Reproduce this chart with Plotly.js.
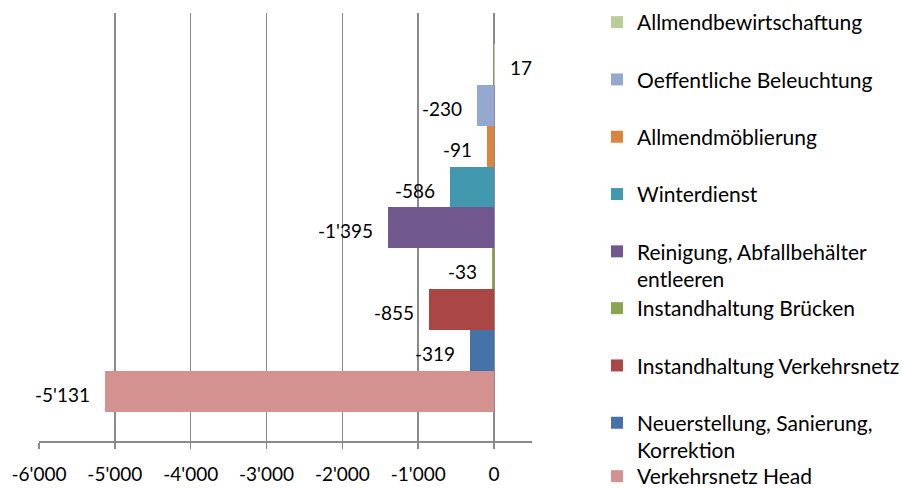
<!DOCTYPE html>
<html>
<head>
<meta charset="utf-8">
<script src="https://cdn.plot.ly/plotly-3.0.1.min.js"></script>
<style>html,body{margin:0;padding:0;background:#fff;}#chart{width:902px;height:488px;}</style>
</head>
<body>
<div id="chart"></div>
<script>
// Data (legend order, top to bottom)
const categories = [
  "Allmendbewirtschaftung",
  "Oeffentliche Beleuchtung",
  "Allmendmöblierung",
  "Winterdienst",
  "Reinigung, Abfallbehälter entleeren",
  "Instandhaltung Brücken",
  "Instandhaltung Verkehrsnetz",
  "Neuerstellung, Sanierung, Korrektion",
  "Verkehrsnetz Head"
];
const legendLabels = [
  "Allmendbewirtschaftung",
  "Oeffentliche Beleuchtung",
  "Allmendmöblierung",
  "Winterdienst",
  "Reinigung, Abfallbehälter<br>entleeren",
  "Instandhaltung Brücken",
  "Instandhaltung Verkehrsnetz",
  "Neuerstellung, Sanierung,<br>Korrektion",
  "Verkehrsnetz Head"
];
const values = [17, -230, -91, -586, -1395, -33, -855, -319, -5131];
const colors = ["#B9CD96", "#93A9CF", "#DB843D", "#4198AF", "#71588F", "#89A54E", "#AA4643", "#4572A7", "#D39190"];
const tickVals = [-6000, -5000, -4000, -3000, -2000, -1000, 0];
const tickText = ["-6'000", "-5'000", "-4'000", "-3'000", "-2'000", "-1'000", "0"];
const legendOf = ["legend", "legend", "legend", "legend", "legend", "legend2", "legend2", "legend2", "legend3"];

function fmt(v) {
  const s = String(Math.abs(v)).replace(/\B(?=(\d{3})+(?!\d))/g, "'");
  return (v < 0 ? "-" : "") + s;
}

const FONT = "Lato, 'Open Sans', sans-serif";
const fontSize = 19;
const legendFontSize = 21;
const textColor = "#000000";
const gridColor = "#8A8A8A";

const traces = categories.map((c, i) => ({
  type: "bar",
  orientation: "h",
  name: legendLabels[i],
  x: [values[i]],
  y: [c],
  marker: { color: colors[i], line: { width: 0 } },
  legend: legendOf[i],
  legendgroup: "g" + i,
  hoverinfo: "x+name"
}));

const annotations = categories.map((c, i) => ({
  x: values[i],
  y: c,
  xref: "x",
  yref: "y",
  text: fmt(values[i]),
  showarrow: false,
  xanchor: values[i] < 0 ? "right" : "left",
  yanchor: "middle",
  xshift: values[i] < 0 ? -13 : 13,
  yshift: -3,
  font: { family: FONT, size: fontSize, color: textColor }
}));

const legendBase = {
  xref: "container", yref: "container",
  xanchor: "left", yanchor: "top",
  bgcolor: "rgba(0,0,0,0)", borderwidth: 0,
  font: { family: FONT, size: legendFontSize, color: textColor },
  traceorder: "grouped", tracegroupgap: 27, valign: "top",
  maxheight: 480
};

const layout = {
  width: 902, height: 488,
  margin: { l: 39, r: 370, t: 13, b: 47 },
  paper_bgcolor: "#ffffff", plot_bgcolor: "#ffffff",
  font: { family: FONT, size: fontSize, color: textColor },
  barmode: "overlay", bargap: 0,
  showlegend: true,
  legend: Object.assign({}, legendBase, { x: 597 / 902, y: 1 - 2 / 488 }),
  legend2: Object.assign({}, legendBase, { x: 597 / 902, y: 1 - 288 / 488 }),
  legend3: Object.assign({}, legendBase, { x: 597 / 902, y: 1 - 456 / 488 }),
  xaxis: {
    range: [-6000, 500],
    tickvals: tickVals, ticktext: tickText,
    showgrid: true, gridcolor: gridColor, gridwidth: 1.5,
    zeroline: true, zerolinecolor: gridColor, zerolinewidth: 1.5,
    showline: true, linecolor: gridColor, linewidth: 1.5,
    ticks: "outside", ticklen: 6, tickcolor: gridColor, tickwidth: 1.5,
    ticklabelstandoff: 10,
    tickfont: { family: FONT, size: fontSize, color: textColor },
    fixedrange: true
  },
  yaxis: {
    type: "category",
    categoryorder: "array",
    categoryarray: categories.slice().reverse(),
    range: [-1.216, 9.258],
    showticklabels: false, showgrid: false, zeroline: false, showline: false, ticks: "",
    fixedrange: true
  },
  annotations: annotations
};

Plotly.newPlot("chart", traces, layout, { displayModeBar: false, staticPlot: true });
</script>
</body>
</html>
